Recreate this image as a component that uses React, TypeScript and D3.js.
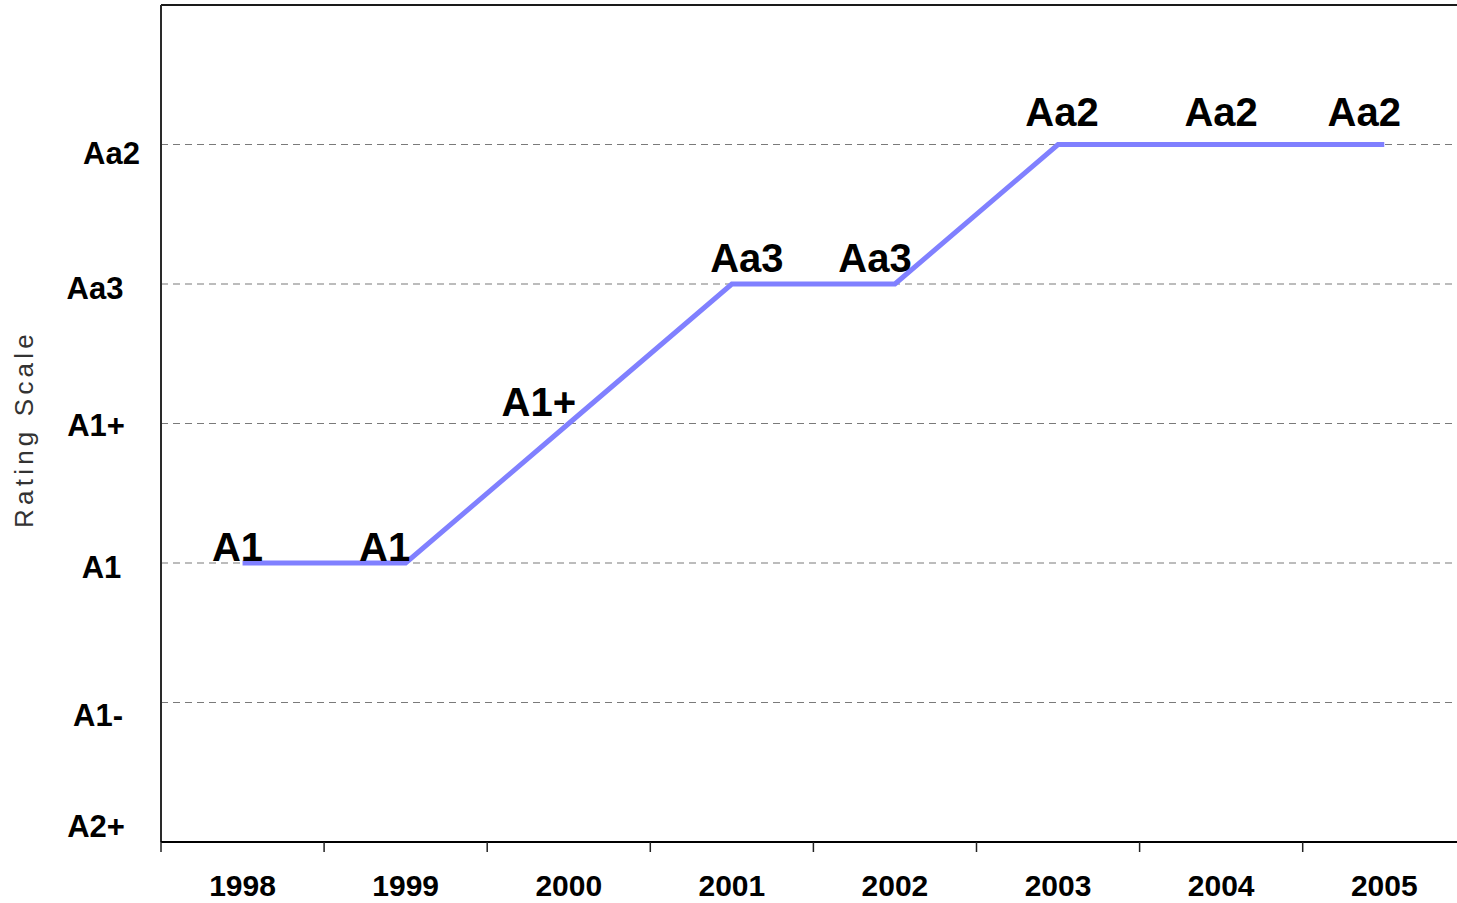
import { useEffect } from "react";
import * as d3 from "d3";

// rating ladder, bottom to top
const ratingScale = ["A2+", "A1-", "A1", "A1+", "Aa3", "Aa2"];
const years = ["1998", "1999", "2000", "2001", "2002", "2003", "2004", "2005"];
const ratings = ["A1", "A1", "A1+", "Aa3", "Aa3", "Aa2", "Aa2", "Aa2"];

// hand placement of the point labels (px from the point), like the original
const labelNudgeX = [-5, -21, -30, 15, -20, 4, 0, -20];
const labelNudgeY = [-2, -2, -8, -12, -12, -19, -19, -19];
// the y tick labels are not aligned consistently in the original either
const tickNudgeX = [-1, 1, 4.5, -1, -2, 14.5];
const tickNudgeY = [-5, 23, 15, 12, 15, 19];

const W = 1457;
const H = 903;
const left = 161;
const top = 5;
const bottom = 842;
const bandW = 163.1;
const tickCenter = 97;

export default function App() {
  useEffect(() => {
    document.body.style.margin = "0";
  }, []);

  const x = d3
    .scaleBand<string>()
    .domain(years)
    .range([left, left + bandW * years.length])
    .paddingInner(0)
    .paddingOuter(0);
  const y = d3
    .scaleLinear()
    .domain([0, ratingScale.length])
    .range([bottom, top]);

  const cx = (yr: string) => (x(yr) ?? 0) + x.bandwidth() / 2;
  const cy = (r: string) => y(ratingScale.indexOf(r));

  const line = d3
    .line<string>()
    .x((_, i) => cx(years[i]))
    .y((d) => cy(d));

  const tickEdges = years.map((yr) => x(yr) ?? 0);

  return (
    <svg width={W} height={H} style={{ display: "block", background: "#fff" }}>
      {/* gridlines */}
      {ratingScale.slice(1).map((r, i) => (
        <line
          key={r}
          x1={left}
          x2={W}
          y1={y(i + 1)}
          y2={y(i + 1)}
          stroke="#7a7a7a"
          strokeWidth={1.2}
          strokeDasharray="7 5"
        />
      ))}

      {/* frame */}
      <line x1={left} x2={W} y1={top} y2={top} stroke="#1a1a1a" strokeWidth={2} />
      <line x1={left} x2={left} y1={top} y2={bottom} stroke="#2a2a2a" strokeWidth={2} />
      <line x1={left} x2={W} y1={bottom} y2={bottom} stroke="#000" strokeWidth={2} />
      {tickEdges.map((tx) => (
        <line key={tx} x1={tx} x2={tx} y1={bottom} y2={bottom + 10} stroke="#222" strokeWidth={1.5} />
      ))}

      {/* y tick labels */}
      {ratingScale.map((r, i) => (
        <text
          key={r}
          x={tickCenter + tickNudgeX[i]}
          y={y(i) + tickNudgeY[i]}
          textAnchor="middle"
          fontFamily="Arial, 'Liberation Sans', sans-serif"
          fontWeight="bold"
          fontSize={31}
          fill="#000"
        >
          {r}
        </text>
      ))}

      {/* x labels */}
      {years.map((yr) => (
        <text
          key={yr}
          x={cx(yr)}
          y={896}
          textAnchor="middle"
          fontFamily="Arial, 'Liberation Sans', sans-serif"
          fontWeight="bold"
          fontSize={30}
          fill="#000"
        >
          {yr}
        </text>
      ))}

      {/* axis title */}
      <text
        transform="translate(33,429) rotate(-90)"
        textAnchor="middle"
        fontFamily="Arial, 'Liberation Sans', sans-serif"
        fontSize={26}
        letterSpacing={4.2}
        fill="#333"
      >
        Rating Scale
      </text>

      {/* rating line */}
      <path
        d={line(ratings) ?? ""}
        fill="none"
        stroke="#8080ff"
        strokeWidth={5}
        strokeLinejoin="miter"
      />

      {/* point labels */}
      {ratings.map((r, i) => (
        <text
          key={years[i]}
          x={cx(years[i]) + labelNudgeX[i]}
          y={cy(r) + labelNudgeY[i]}
          textAnchor="middle"
          fontFamily="Arial, 'Liberation Sans', sans-serif"
          fontWeight="bold"
          fontSize={40}
          fill="#000"
        >
          {r}
        </text>
      ))}
    </svg>
  );
}
